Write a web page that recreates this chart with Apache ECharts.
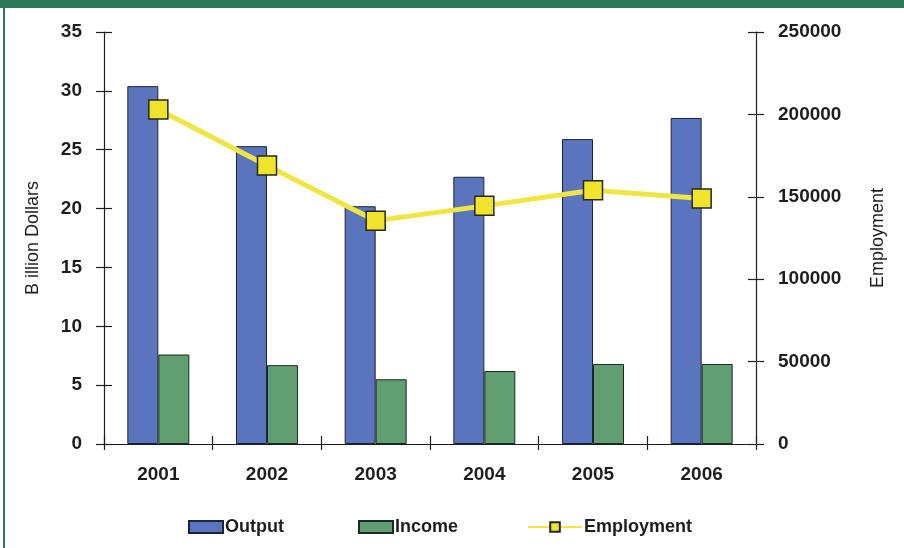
<!DOCTYPE html>
<html>
<head>
<meta charset="utf-8">
<title>Output, Income and Employment 2001-2006</title>
<script src="https://cdn.jsdelivr.net/npm/echarts@6/dist/echarts.min.js"></script>
<style>
  html, body { margin: 0; padding: 0; background: #ffffff; }
  #chart { width: 904px; height: 548px; }
</style>
</head>
<body>
<div id="chart"></div>
<script>
// Yearly figures
const years = ['2001', '2002', '2003', '2004', '2005', '2006'];
const output = [30.4, 25.3, 20.2, 22.7, 25.9, 27.7];      // billion dollars
const income = [7.6, 6.7, 5.5, 6.2, 6.8, 6.8];            // billion dollars
const employment = [203000, 169000, 135500, 144500, 154000, 149000];

// Axis scales
const dollarMax = 35, dollarStep = 5;
const jobsMax = 250000, jobsStep = 50000;

const FONT = '"Liberation Sans", Arial, sans-serif';
const INK = '#1e1e1e';
const GREEN_FRAME = '#2c7a55';

const tickLabel = { fontFamily: FONT, fontWeight: 'bold', fontSize: 19, color: INK };

// Axes are doubled so every tick mark crosses its axis line
function valueAxis(pos, max, step, inside, extra) {
  return Object.assign({
    type: 'value',
    position: pos,
    min: 0, max: max, interval: step,
    splitLine: { show: false },
    axisLine: { show: !inside, lineStyle: { color: INK, width: 1.2 } },
    axisTick: { show: true, inside: inside, length: 8, lineStyle: { color: INK, width: 1.2 } },
    axisLabel: inside ? { show: false } : Object.assign({ margin: 22, formatter: v => String(v) }, tickLabel)
  }, extra || {});
}

const legendText = { fontFamily: FONT, fontWeight: 'bold', fontSize: 18, color: INK, padding: [0, 0, 0, -3] };

const chart = echarts.init(document.getElementById('chart'), null, { renderer: 'canvas' });

chart.setOption({
  animation: false,
  backgroundColor: '#ffffff',
  grid: { left: 104, right: 148, top: 32, bottom: 104, containLabel: false },
  graphic: [
    { type: 'rect', left: 0, top: 0, shape: { width: 904, height: 8 }, style: { fill: GREEN_FRAME }, silent: true },
    { type: 'rect', left: 3, top: 0, shape: { width: 2, height: 548 }, style: { fill: GREEN_FRAME }, silent: true }
  ],
  legend: [
    {
      data: [{ name: 'Output', icon: 'rect' }], left: 188, top: 518, padding: 0,
      itemWidth: 34, itemHeight: 12, textStyle: legendText
    },
    {
      data: [{ name: 'Income', icon: 'rect' }], left: 358, top: 518, padding: 0,
      itemWidth: 34, itemHeight: 12, textStyle: legendText
    },
    {
      data: ['Employment'], left: 527, top: 518, padding: 0,
      itemWidth: 54, itemHeight: 12, textStyle: legendText
    }
  ],
  xAxis: [
    {
      type: 'category',
      data: years,
      axisLine: { show: true, lineStyle: { color: INK, width: 1.2 } },
      axisTick: { show: true, length: 6, lineStyle: { color: INK, width: 1.2 } },
      axisLabel: Object.assign({ margin: 21 }, tickLabel)
    },
    {
      type: 'category',
      data: years,
      position: 'bottom',
      axisLine: { show: false },
      axisTick: { show: true, inside: true, length: 8, lineStyle: { color: INK, width: 1.2 } },
      axisLabel: { show: false }
    }
  ],
  yAxis: [
    valueAxis('left', dollarMax, dollarStep, false, {
      name: 'B illion Dollars',
      nameLocation: 'middle',
      nameGap: 62,
      nameTextStyle: { fontFamily: FONT, fontSize: 18, color: INK }
    }),
    valueAxis('right', jobsMax, jobsStep, false, {
      name: 'Employment',
      nameLocation: 'middle',
      nameGap: 113,
      nameRotate: 90,
      nameTextStyle: { fontFamily: FONT, fontSize: 18, color: INK }
    }),
    valueAxis('left', dollarMax, dollarStep, true),
    valueAxis('right', jobsMax, jobsStep, true)
  ],
  series: [
    {
      name: 'Output',
      type: 'bar',
      data: output,
      barWidth: 31,
      barGap: '0%',
      itemStyle: { color: '#5b74be', borderColor: '#1c2438', borderWidth: 1 }
    },
    {
      name: 'Income',
      type: 'bar',
      data: income,
      barWidth: 31,
      barGap: '0%',
      itemStyle: { color: '#619e72', borderColor: '#1c2a22', borderWidth: 1 }
    },
    {
      name: 'Employment',
      type: 'line',
      yAxisIndex: 1,
      data: employment,
      symbol: 'rect',
      symbolSize: 19,
      z: 5,
      lineStyle: { color: '#efe646', width: 5 },
      itemStyle: { color: '#efe42a', borderColor: '#262626', borderWidth: 1.5 }
    }
  ]
});
</script>
</body>
</html>
